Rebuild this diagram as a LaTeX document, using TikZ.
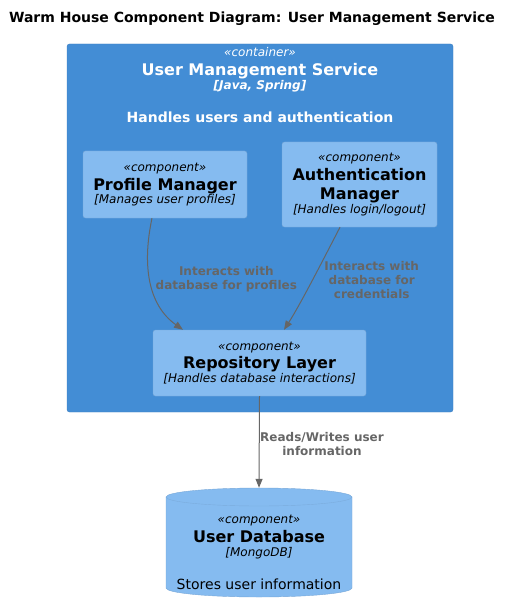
\documentclass[tikz,border=0pt]{standalone}
\usepackage{fontspec}
\setmainfont{DejaVu Sans}
\usetikzlibrary{arrows.meta}
\definecolor{ctrblue}{HTML}{438DD5}
\definecolor{ctrline}{HTML}{3C7FC0}
\definecolor{compblue}{HTML}{85BBF0}
\definecolor{compline}{HTML}{78A8D8}
\definecolor{relgray}{HTML}{666666}
\newcommand{\stype}[1]{\textit{«#1»}}
\newcommand{\cname}[1]{{\bfseries\fontsize{16}{19}\selectfont #1}}
\newcommand{\ctech}[1]{\textit{[#1]}}

\begin{document}
\begin{tikzpicture}[x=1pt,y=-1pt,
	container/.style={draw=ctrline,fill=ctrblue,rounded corners=2.5pt,minimum width=386pt,minimum height=368pt,inner sep=0pt},
	comp/.style={draw=compline,fill=compblue,rounded corners=2.5pt,align=center,inner sep=0pt,font=\fontsize{12}{15}\selectfont},
	ctrtext/.style={text=white,align=center,inner sep=0pt,font=\fontsize{12}{15}\selectfont},
	rel/.style={draw=relgray,line width=1pt,-{Triangle[length=9pt,width=7pt]}},
	rellabel/.style={text=relgray,align=center,inner sep=0pt,font=\bfseries\fontsize{12}{14}\selectfont}]
			\useasboundingbox (0,0) rectangle (511,612);
			\node[inner sep=0pt,anchor=base,font=\bfseries\fontsize{14}{17}\selectfont] (title) at (252,23) {Warm House Component Diagram: User Management Service};
			\node[container] (ums) at (260,228) {};
			\node[ctrtext,anchor=north] (umstext) at (260,47.4) {\stype{container}\\[3.8pt]\cname{User Management Service}\\[-1pt]{\bfseries\itshape [Java, Spring]}\\[17.7pt]{\bfseries\fontsize{14}{17}\selectfont Handles users and authentication}};
			\node[comp,minimum width=164pt,minimum height=67pt] (profile) at (165,184.5) {\stype{component}\\[4pt]\cname{Profile Manager}\\[-1.4pt]\ctech{Manages user profiles}};
			\node[comp,minimum width=155pt,minimum height=85pt] (auth) at (359.5,184.5) {\stype{component}\\[3.5pt]\cname{Authentication}\\[4pt]\cname{Manager}\\[-1pt]\ctech{Handles login/logout}};
			\node[comp,minimum width=213pt,minimum height=66pt] (repo) at (259.5,363) {\stype{component}\\[3.6pt]\cname{Repository Layer}\\[-1pt]\ctech{Handles database interactions}};
			\draw[draw=compline,fill=compblue] (166,497) -- (166,588) arc[start angle=180,end angle=360,x radius=93pt,y radius=9pt] -- (352,497) arc[start angle=0,end angle=180,x radius=93pt,y radius=9pt] -- cycle;
			\draw[draw=compline!80!compblue] (166,497) arc[start angle=180,end angle=360,x radius=93pt,y radius=9pt];
			\node[align=center,inner sep=0pt,minimum width=186pt,minimum height=129pt,font=\fontsize{12}{15}\selectfont] (db) at (259,552.5) {\stype{component}\\[4pt]\cname{User Database}\\[-0.7pt]\ctech{MongoDB}\\[17.7pt]{\fontsize{14}{17}\selectfont Stores user information}};
			\draw[rel] ([xshift=-13pt]profile.south) .. controls (142,265) and (148,305) .. ([xshift=-76.5pt]repo.north);
			\draw[rel] ([xshift=-19.5pt]auth.south) .. controls (322,262) and (300,305) .. ([xshift=24.5pt]repo.north);
			\draw[rel] (repo.south) -- (db.north);
			\node[rellabel] (lblprofile) at (226.3,279.6) {Interacts with\\database for profiles};
			\node[rellabel] (lblauth) at (371.7,280) {Interacts with\\database for\\credentials};
			\node[rellabel] (lbldb) at (322,444) {Reads/Writes user\\information};
		\end{tikzpicture}
\end{document}
